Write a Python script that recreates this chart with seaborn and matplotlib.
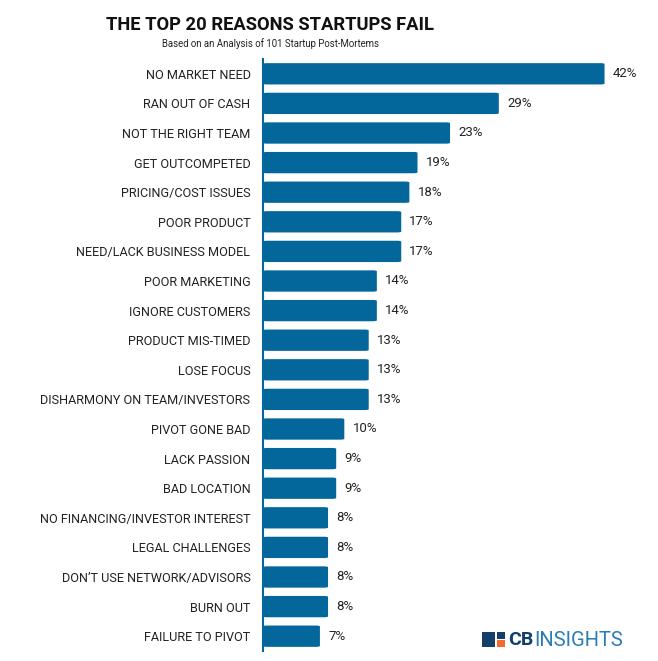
import matplotlib
matplotlib.use("Agg")
import matplotlib.pyplot as plt
import seaborn as sns
import pandas as pd
from matplotlib.patches import FancyBboxPatch, Rectangle

reasons = [
    "NO MARKET NEED", "RAN OUT OF CASH", "NOT THE RIGHT TEAM", "GET OUTCOMPETED",
    "PRICING/COST ISSUES", "POOR PRODUCT", "NEED/LACK BUSINESS MODEL", "POOR MARKETING",
    "IGNORE CUSTOMERS", "PRODUCT MIS-TIMED", "LOSE FOCUS", "DISHARMONY ON TEAM/INVESTORS",
    "PIVOT GONE BAD", "LACK PASSION", "BAD LOCATION", "NO FINANCING/INVESTOR INTEREST",
    "LEGAL CHALLENGES", "DON\u2019T USE NETWORK/ADVISORS", "BURN OUT", "FAILURE TO PIVOT",
]
percent = [42, 29, 23, 19, 18, 17, 17, 14, 14, 13, 13, 13, 10, 9, 9, 8, 8, 8, 8, 7]

df = pd.DataFrame({"reason": reasons, "pct": percent})

bar_color = "#04679c"

sns.set_theme(style="white")
plt.rcParams["font.family"] = ["Roboto", "DejaVu Sans"]

fig = plt.figure(figsize=(6.58, 6.61), dpi=100)
ax = fig.add_axes([263 / 658, 1 - 651 / 661, 370 / 658, 592 / 661])

sns.barplot(data=df, x="pct", y="reason", color=bar_color, width=0.72,
            saturation=1, ax=ax)

# swap rectangles for rounded ones
for p in list(ax.patches):
    x0, y0, w, h = p.get_x(), p.get_y(), p.get_width(), p.get_height()
    rb = FancyBboxPatch((x0, y0), w, h, boxstyle="round,pad=0,rounding_size=0.5",
                        mutation_aspect=0.06, facecolor=bar_color,
                        edgecolor="none")
    p.remove()
    ax.add_patch(rb)

ax.set_xlim(0, 45.5)
ax.set_ylim(19.5, -0.5)
ax.set_xlabel("")
ax.set_ylabel("")
ax.set_xticks([])
ax.tick_params(axis="y", length=0, pad=9, labelsize=9.1, labelcolor="#222222")

for s in ["top", "right", "bottom"]:
    ax.spines[s].set_visible(False)
ax.spines["left"].set_color(bar_color)
ax.spines["left"].set_linewidth(1.5)

for i, v in enumerate(percent):
    ax.text(v + 1.0, i, f"{v}%", va="center", ha="left", fontsize=9.5,
            color="#222222")

fig.text(270 / 658, 1 - 25 / 661, "THE TOP 20 REASONS STARTUPS FAIL",
         ha="center", va="center", fontsize=13.2, fontweight="bold",
         color="#111111")
fig.text(270 / 658, 1 - 44 / 661, "Based on an Analysis of 101 Startup Post-Mortems",
         ha="center", va="center", fontsize=6.9, color="#222222")

# CB Insights logo
navy = "#123f6b"
orange = "#f26b2b"
fig.patches.append(Rectangle((482 / 658, 1 - 647 / 661), 13 / 658, 15 / 661,
                             transform=fig.transFigure, facecolor=navy, edgecolor="none"))
fig.patches.append(Rectangle((497 / 658, 1 - 639 / 661), 8 / 658, 7 / 661,
                             transform=fig.transFigure, facecolor=navy, edgecolor="none"))
fig.patches.append(Rectangle((497 / 658, 1 - 647 / 661), 8 / 658, 7 / 661,
                             transform=fig.transFigure, facecolor=orange, edgecolor="none"))
fig.text(508 / 658, 1 - 640 / 661, "CB", ha="left", va="center", fontsize=14,
         fontweight="bold", color=navy)
fig.text(534 / 658, 1 - 640 / 661, "INSIGHTS", ha="left", va="center", fontsize=14.5,
         color="#2a7db5")

fig.savefig("out.png", dpi=100, facecolor="white")
